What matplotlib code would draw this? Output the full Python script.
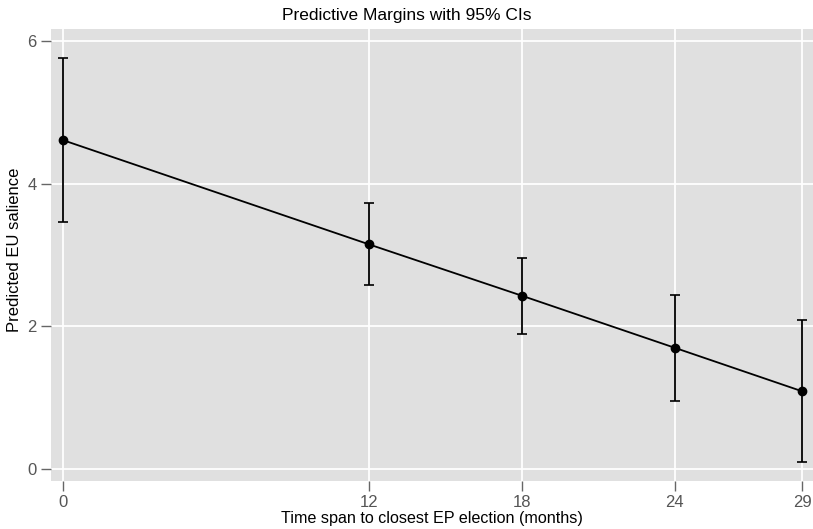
import matplotlib
matplotlib.use("Agg")
import matplotlib.pyplot as plt
import numpy as np

months = [0, 12, 18, 24, 29]
margin = [4.61, 3.15, 2.43, 1.70, 1.09]
ci_low = [3.46, 2.58, 1.89, 0.95, 0.10]
ci_high = [5.76, 3.73, 2.96, 2.44, 2.09]
yticks = [0, 2, 4, 6]

plt.rcParams['font.family'] = ['Liberation Sans', 'DejaVu Sans']

fig = plt.figure(figsize=(8.13, 5.29), dpi=100)
ax = fig.add_axes([51/813, 48/529, 762/813, 452/529])
ax.set_facecolor('#e0e0e0')
for s in ax.spines.values():
    s.set_visible(False)

m = np.array(margin)
yerr = [m - np.array(ci_low), np.array(ci_high) - m]
ax.errorbar(months, margin, yerr=yerr, color='black', lw=1.3, marker='o', ms=6,
            capsize=3.5, capthick=1.2, elinewidth=1.3, zorder=3)

ax.set_xlim(-0.47, 29.43)
ax.set_ylim(-0.168, 6.168)
ax.set_xticks(months)
ax.set_yticks(yticks)
ax.grid(True, color='white', lw=1.3)
ax.set_axisbelow(True)
ax.tick_params(axis='both', colors='#666666', labelcolor='#555555', labelsize=12,
               length=7, width=1)
ax.tick_params(axis='x', pad=3)
fig.text(0.5, 1 - 8/529, 'Predictive Margins with 95% CIs', fontsize=12.5,
         ha='center', va='top')
ax.set_xlabel('Time span to closest EP election (months)', fontsize=11.6, labelpad=1)
ax.set_ylabel('Predicted EU salience', fontsize=12, labelpad=0)
ax.yaxis.set_label_coords(-0.038, 0.511)

fig.savefig('out.png', dpi=100)
